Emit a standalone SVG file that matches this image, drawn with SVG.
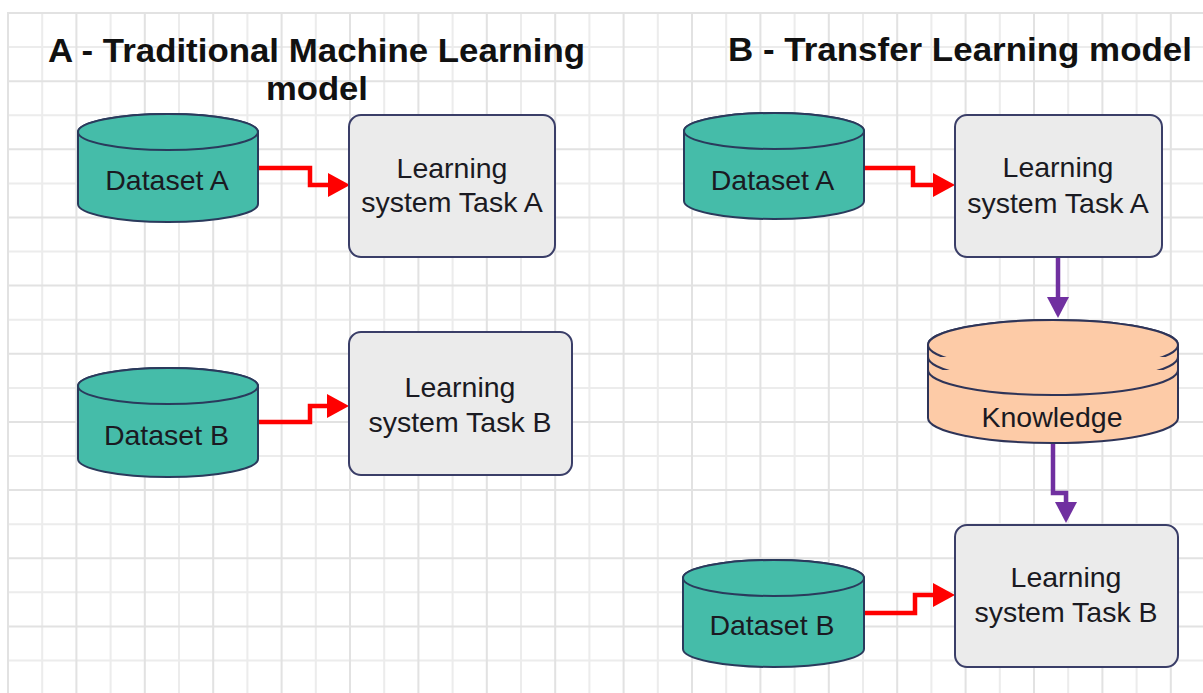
<svg xmlns="http://www.w3.org/2000/svg" width="1203" height="693" viewBox="0 0 1203 693">
  <style>
    .title { font-family: "Liberation Sans", Arial, sans-serif; font-weight: bold; font-size: 33px; fill: #111; text-anchor: middle; }
    .label { font-family: "Liberation Sans", Arial, sans-serif; font-size: 28.5px; fill: #1a1a22; text-anchor: middle; }
    .db { fill: #45bca9; stroke: #2a3a5c; stroke-width: 2; }
    .kb { fill: #fdcba7; stroke: #2e3458; stroke-width: 2; }
    .box { fill: #ebebeb; stroke: #3a3e68; stroke-width: 2; }
    .red { fill: none; stroke: #ff0000; stroke-width: 4.5; stroke-linejoin: miter; }
    .purple { fill: none; stroke: #7030a0; stroke-width: 4.5; stroke-linejoin: miter; }
    .grid-major { fill: none; stroke: #e2e2e2; stroke-width: 2; }
    .grid-minor { fill: none; stroke: #ececec; stroke-width: 2; }
  </style>
  <defs>
    <marker id="arrowRed" markerUnits="userSpaceOnUse" markerWidth="22" markerHeight="24" refX="0" refY="12" orient="auto" viewBox="0 0 22 24">
      <path d="M0,0 L22,12 L0,24 z" fill="#ff0000"/>
    </marker>
    <marker id="arrowPurple" markerUnits="userSpaceOnUse" markerWidth="21" markerHeight="22" refX="0" refY="11" orient="auto" viewBox="0 0 21 22">
      <path d="M0,0 L21,11 L0,22 z" fill="#7030a0"/>
    </marker>
  </defs>

  <!-- background and grid -->
  <rect x="0" y="0" width="1203" height="693" fill="#ffffff"/>
  <g id="grid">
    <path class="grid-minor" d="M42.2,12V693 M110.6,12V693 M179,12V693 M247.4,12V693 M315.8,12V693 M384.2,12V693 M452.6,12V693 M521,12V693 M589.4,12V693 M657.8,12V693 M726.2,12V693 M794.6,12V693 M863,12V693 M931.4,12V693 M999.8,12V693 M1068.2,12V693 M1136.6,12V693
      M7,47.1H1203 M7,115.2H1203 M7,183.4H1203 M7,251.6H1203 M7,319.7H1203 M7,387.9H1203 M7,456H1203 M7,524.2H1203 M7,592.3H1203 M7,660.5H1203"/>
    <path class="grid-major" d="M8,12V693 M76.4,12V693 M144.8,12V693 M213.2,12V693 M281.6,12V693 M350,12V693 M418.4,12V693 M486.8,12V693 M555.2,12V693 M623.6,12V693 M692,12V693 M760.4,12V693 M828.8,12V693 M897.2,12V693 M965.6,12V693 M1034,12V693 M1102.4,12V693 M1170.8,12V693
      M7,13H1203 M7,81.2H1203 M7,149.3H1203 M7,217.5H1203 M7,285.6H1203 M7,353.8H1203 M7,422H1203 M7,490.1H1203 M7,558.3H1203 M7,626.4H1203"/>
  </g>

  <!-- headings -->
  <text class="title" x="316.5" y="62" textLength="537" lengthAdjust="spacingAndGlyphs">A - Traditional Machine Learning</text>
  <text class="title" x="317" y="100" textLength="102" lengthAdjust="spacingAndGlyphs">model</text>
  <text class="title" x="960" y="61" textLength="464" lengthAdjust="spacingAndGlyphs">B - Transfer Learning model</text>

  <!-- connectors -->
  <g id="connectors">
    <path class="red" d="M258,168 H310 V185 H328" marker-end="url(#arrowRed)"/>
    <path class="red" d="M258,422 H310 V406 H327" marker-end="url(#arrowRed)"/>
    <path class="red" d="M864,168 H913 V185 H933" marker-end="url(#arrowRed)"/>
    <path class="red" d="M864,613 H915 V595 H933" marker-end="url(#arrowRed)"/>
    <path class="purple" d="M1058,257 V297" marker-end="url(#arrowPurple)"/>
    <path class="purple" d="M1053,443 V493 H1066 V502" marker-end="url(#arrowPurple)"/>
  </g>

  <!-- A: traditional model -->
  <g id="datasetA-left">
    <path class="db" d="M78,132 V204 A90,18 0 0 0 258,204 V132 A90,18 0 0 0 78,132 Z"/>
    <ellipse class="db" cx="168" cy="132" rx="90" ry="18"/>
    <text class="label" x="167" y="190">Dataset A</text>
  </g>
  <g id="taskA-left">
    <rect class="box" x="349" y="115" width="206" height="142" rx="12"/>
    <text class="label" x="452" y="178">Learning</text>
    <text class="label" x="452" y="212">system Task A</text>
  </g>
  <g id="datasetB-left">
    <path class="db" d="M78,386 V459 A90,18 0 0 0 258,459 V386 A90,18 0 0 0 78,386 Z"/>
    <ellipse class="db" cx="168" cy="386" rx="90" ry="18"/>
    <text class="label" x="166.5" y="445">Dataset B</text>
  </g>
  <g id="taskB-left">
    <rect class="box" x="349" y="332" width="223" height="143" rx="12"/>
    <text class="label" x="460" y="397">Learning</text>
    <text class="label" x="460" y="432">system Task B</text>
  </g>

  <!-- B: transfer learning model -->
  <g id="datasetA-right">
    <path class="db" d="M684,131 V201 A90,18 0 0 0 864,201 V131 A90,18 0 0 0 684,131 Z"/>
    <ellipse class="db" cx="774" cy="131" rx="90" ry="18"/>
    <text class="label" x="772.5" y="190">Dataset A</text>
  </g>
  <g id="taskA-right">
    <rect class="box" x="955" y="115" width="207" height="142" rx="12"/>
    <text class="label" x="1058" y="177">Learning</text>
    <text class="label" x="1058" y="213">system Task A</text>
  </g>
  <g id="knowledge">
    <path class="kb" d="M928,345 V418 A125,25 0 0 0 1178,418 V345 A125,25 0 0 0 928,345 Z"/>
    <ellipse class="kb" cx="1053" cy="345" rx="125" ry="25"/>
    <path class="kb" fill="none" d="M928,357 A125,25 0 0 0 1178,357"/>
    <path class="kb" fill="none" d="M928,370 A125,25 0 0 0 1178,370"/>
    <text class="label" x="1052" y="427">Knowledge</text>
  </g>
  <g id="datasetB-right">
    <path class="db" d="M683,578 V649 A90.5,18 0 0 0 864,649 V578 A90.5,18 0 0 0 683,578 Z"/>
    <ellipse class="db" cx="773.5" cy="578" rx="90.5" ry="18"/>
    <text class="label" x="772" y="635">Dataset B</text>
  </g>
  <g id="taskB-right">
    <rect class="box" x="955" y="525" width="223" height="142" rx="12"/>
    <text class="label" x="1066" y="587">Learning</text>
    <text class="label" x="1066" y="622">system Task B</text>
  </g>
</svg>
